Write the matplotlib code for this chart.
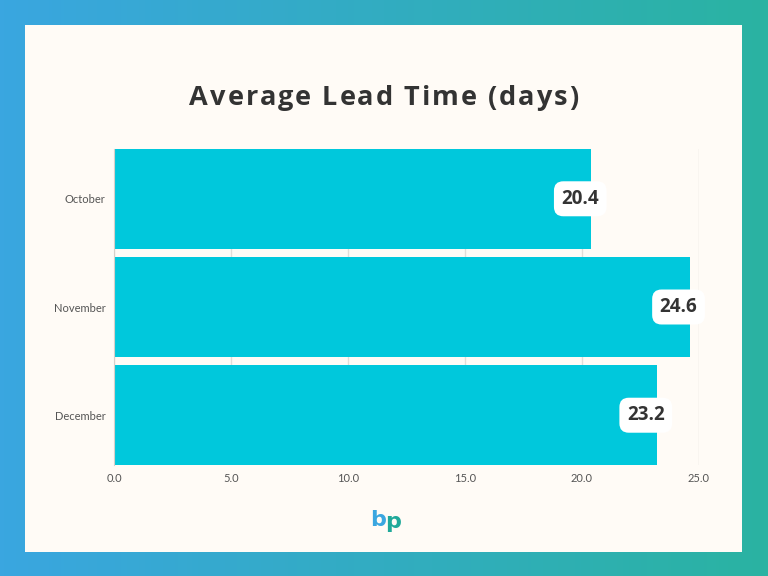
import numpy as np
import matplotlib.pyplot as plt
from matplotlib.patches import Rectangle
from matplotlib.colors import LinearSegmentedColormap

# data
months = ["October", "November", "December"]
lead_time = [20.4, 24.6, 23.2]
x_ticks = [0, 5, 10, 15, 20, 25]
title = "Average Lead Time (days)"

fig = plt.figure(figsize=(7.68, 5.76), dpi=100)

# gradient background
bg = fig.add_axes([0, 0, 1, 1])
grad = np.linspace(0, 1, 256).reshape(1, -1)
cmap = LinearSegmentedColormap.from_list("bg", ["#3aa6e0", "#2ab3a2"])
bg.imshow(grad, aspect="auto", cmap=cmap, extent=[0, 1, 0, 1])
bg.set_xlim(0, 1)
bg.set_ylim(0, 1)
bg.axis("off")
bg.add_patch(Rectangle((25 / 768, 1 - 552 / 576), (742 - 25) / 768, (552 - 25) / 576,
                       facecolor="#fffbf6", edgecolor="none"))

# title with letter spacing (drawn char by char)
renderer = fig.canvas.get_renderer()
tkw = dict(fontsize=19.5, fontweight="bold", family="Open Sans", color="#333333")
spacing = 2.0  # px between letters
def prefix_w(s):
    if not s:
        return 0.0
    t = fig.text(0, 0, s, **tkw)
    w = t.get_window_extent(renderer).width
    t.remove()
    return w
total = prefix_w(title) + spacing * (len(title) - 1)
x0 = 384 - total / 2
ty = 1 - 98 / 576
for i, ch in enumerate(title):
    px = x0 + prefix_w(title[:i]) + spacing * i
    fig.text(px / 768, ty, ch, ha="left", va="center", **tkw)

ax = fig.add_axes([114 / 768, 1 - 465 / 576, (699 - 114) / 768, (465 - 149) / 576])
ax.set_facecolor("none")
y = np.arange(len(months))
ax.barh(y, lead_time, height=0.92, color="#00c8dc", zorder=2)
ax.set_ylim(2.46, -0.46)
ax.set_xlim(0, 25)
ax.set_xticks(x_ticks)
ax.set_xticklabels([f"{t:.1f}" for t in x_ticks], family="Lato", fontsize=8, color="#555555")
ax.set_yticks(y)
ax.set_yticklabels(months, family="Lato", fontsize=8, color="#555555")
ax.tick_params(length=0, pad=6)
ax.grid(axis="x", color="#e2ddd8", linewidth=1, zorder=0)
for s in ["top", "right", "bottom"]:
    ax.spines[s].set_visible(False)
ax.spines["left"].set_color("#d6d0ca")

for yi, v in zip(y, lead_time):
    ax.annotate(f"{v}", (v, yi), xytext=(-8, 0), textcoords="offset points",
                ha="center", va="center", fontsize=13.5, fontweight="bold",
                family="Open Sans", color="#333333", zorder=5,
                bbox=dict(boxstyle="round,pad=0.4,rounding_size=0.5", fc="white", ec="none"))

# logo
fig.text(0.5 - 0.008, 1 - 520 / 576, "b", ha="center", va="center", fontsize=16,
         fontweight="bold", family="DejaVu Sans", color="#3aa6e0")
fig.text(0.5 + 0.012, 1 - 522 / 576, "p", ha="center", va="center", fontsize=16,
         fontweight="bold", family="DejaVu Sans", color="#1fa99a")

fig.savefig("out.png", dpi=100)
